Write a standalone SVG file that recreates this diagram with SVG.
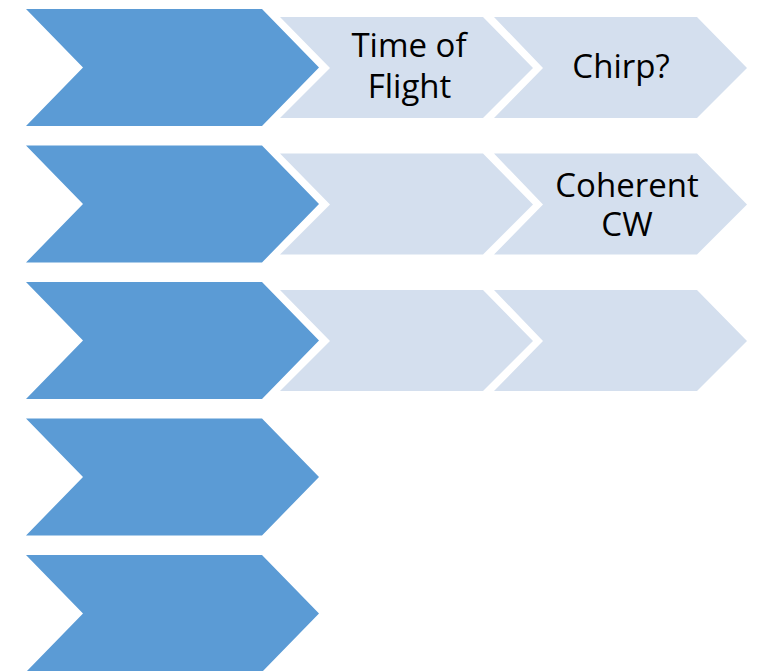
<svg xmlns="http://www.w3.org/2000/svg" xmlns:xlink="http://www.w3.org/1999/xlink" width="760" height="671" viewBox="0 0 760 671">
<style>
.dark{fill:#5B9BD5}
.light{fill:#D4DFEE}
.lbl{font-family:"Open Sans","Liberation Sans",sans-serif;font-size:33px;fill:#000;text-anchor:middle}
</style>
<defs>
<polygon id="dk" points="26,0 262,0 319,58.5 262,117 26,117 83,58.5"/>
<polygon id="la" points="280,8 483,8 533,59 483,109 280,109 330,59"/>
<polygon id="lb" points="494,8 697,8 747,59 697,109 494,109 543,59"/>
</defs>
<rect width="760" height="671" fill="#fff"/>
<g id="row1-main" transform="translate(0,9)"><use xlink:href="#dk" class="dark"/></g>
<g id="row1-tof" transform="translate(0,9)"><use xlink:href="#la" class="light"/>
<text class="lbl" x="409" y="47.7">Time of</text><text class="lbl" x="409.5" y="88.7">Flight</text></g>
<g id="row1-chirp" transform="translate(0,9)"><use xlink:href="#lb" class="light"/>
<text class="lbl" x="621" y="68.7">Chirp?</text></g>
<g id="row2-main" transform="translate(0,145.5)"><use xlink:href="#dk" class="dark"/></g>
<g id="row2-a" transform="translate(0,145.5)"><use xlink:href="#la" class="light"/></g>
<g id="row2-cw" transform="translate(0,145.5)"><use xlink:href="#lb" class="light"/>
<text class="lbl" x="627" y="51.8">Coherent</text><text class="lbl" x="627" y="90.5">CW</text></g>
<g id="row3-main" transform="translate(0,282)"><use xlink:href="#dk" class="dark"/></g>
<g id="row3-a" transform="translate(0,282)"><use xlink:href="#la" class="light"/></g>
<g id="row3-b" transform="translate(0,282)"><use xlink:href="#lb" class="light"/></g>
<g id="row4-main" transform="translate(0,418.5)"><use xlink:href="#dk" class="dark"/></g>
<g id="row5-main" transform="translate(0,555)"><use xlink:href="#dk" class="dark"/></g>
<g id="connectors"/>
</svg>
